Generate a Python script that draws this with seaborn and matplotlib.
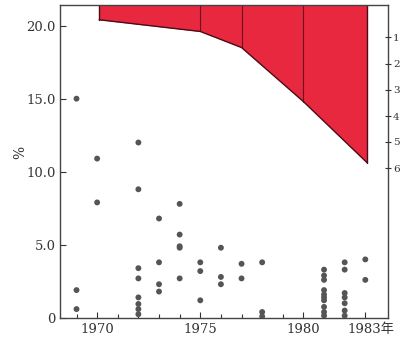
import matplotlib
matplotlib.use("Agg")
import matplotlib.pyplot as plt
import matplotlib.transforms as mtransforms
import seaborn as sns
import pandas as pd

# Scatter observations per year
years = [1969, 1969, 1969,
         1970, 1970,
         1972, 1972, 1972, 1972, 1972, 1972, 1972, 1972,
         1973, 1973, 1973, 1973,
         1974, 1974, 1974, 1974, 1974,
         1975, 1975, 1975,
         1976, 1976, 1976,
         1977, 1977,
         1978, 1978, 1978,
         1981, 1981, 1981, 1981, 1981, 1981, 1981, 1981, 1981, 1981,
         1982, 1982, 1982, 1982, 1982, 1982, 1982,
         1983, 1983]
values = [15.0, 1.9, 0.6,
          10.9, 7.9,
          12.0, 8.8, 3.4, 2.7, 1.4, 0.95, 0.6, 0.25,
          6.8, 3.8, 2.3, 1.8,
          7.8, 5.7, 4.8, 4.9, 2.7,
          3.8, 3.2, 1.2,
          4.8, 2.8, 2.3,
          3.7, 2.7,
          3.8, 0.4, 0.1,
          3.3, 2.9, 2.6, 1.9, 1.6, 1.4, 1.2, 0.75, 0.4, 0.15,
          3.8, 3.3, 1.7, 1.4, 1.0, 0.5, 0.15,
          4.0, 2.6]

# Shaded upper band (lower boundary) and its vertical dividers
band_years = [1970.1, 1975.0, 1977.0, 1980.0, 1983.1]
band_lower = [20.4, 19.6, 18.5, 14.8, 10.6]
band_dividers = [1975.0, 1977.0, 1980.0]

y_ticks = [0, 5, 10, 15, 20]
y_tick_labels = ["0", "5.0", "10.0", "15.0", "20.0"]
x_ticks = [1970, 1975, 1980, 1983]
x_tick_labels = ["1970", "1975", "1980", "1983年"]
right_ticks = [19.2, 17.4, 15.6, 13.8, 12.05, 10.25]
right_labels = ["1", "2", "3", "4", "5", "6"]

sns.set_theme(style="white")
plt.rcParams["font.family"] = ["DejaVu Serif", "Noto Sans CJK JP", "DejaVu Sans"]

fig = plt.figure(figsize=(4.0, 3.44), dpi=100)
ax = fig.add_axes([0.15, 0.076, 0.82, 0.909])

y_top = 21.4
edge = "#4a0c18"
ax.fill_between(band_years, band_lower, y_top, color="#e8283f",
                linewidth=0, zorder=1)
ax.plot(band_years, band_lower, color=edge, lw=1.0, zorder=2)
ax.plot([band_years[0], band_years[0]], [band_lower[0], y_top], color=edge, lw=1.0, zorder=2)
ax.plot([band_years[-1], band_years[-1]], [band_lower[-1], y_top], color=edge, lw=1.0, zorder=2)
for xd in band_dividers:
    lo = band_lower[band_years.index(xd)]
    ax.plot([xd, xd], [lo, y_top], color=edge, lw=0.8, alpha=0.8, zorder=2)

df = pd.DataFrame({"year": years, "value": values})
sns.scatterplot(data=df, x="year", y="value", ax=ax, color="#555555",
                s=18, edgecolor="none", zorder=3)

ax.set_xlim(1968.2, 1984.1)
ax.set_ylim(0, y_top)
ax.set_xticks(x_ticks)
ax.set_xticklabels(x_tick_labels, fontsize=9.5, color="#333333")
ax.set_xticks(list(range(1969, 1984)), minor=True)
ax.set_yticks(y_ticks)
ax.set_yticklabels(y_tick_labels, fontsize=9.5, color="#333333")
ax.tick_params(axis="both", which="both", direction="in", length=4, width=0.8,
               colors="#333333", bottom=True, left=True, pad=3)
ax.tick_params(axis="x", which="minor", length=3)
ax.tick_params(axis="x", which="major", pad=4)
# keep the "年" suffix trailing to the right of the last year
last = ax.get_xticklabels()[-1]
last.set_horizontalalignment("left")
last.set_transform(last.get_transform() + mtransforms.ScaledTranslation(-0.18, 0, fig.dpi_scale_trans))

ax.set_xlabel("")
ax.set_ylabel("%", fontsize=10, rotation=90, color="#333333")
ax.yaxis.set_label_coords(-0.1, 0.53)
for sp in ax.spines.values():
    sp.set_color("#444444")
    sp.set_linewidth(1.0)

ax2 = ax.twinx()
ax2.set_ylim(0, y_top)
ax2.set_yticks(right_ticks)
ax2.set_yticklabels(right_labels, fontsize=7.5, color="#333333")
ax2.tick_params(axis="y", direction="inout", length=5, width=0.8, colors="#333333", pad=1)
for sp in ax2.spines.values():
    sp.set_visible(False)

fig.savefig("out.png", dpi=100)
